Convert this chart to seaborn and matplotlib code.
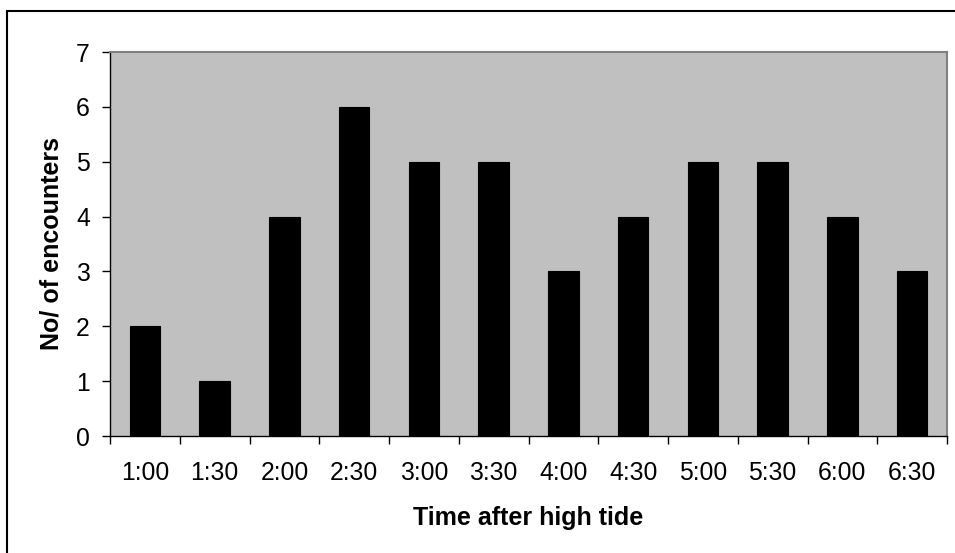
import matplotlib
matplotlib.use("Agg")
import matplotlib.pyplot as plt
import seaborn as sns
import pandas as pd
from matplotlib.patches import Rectangle

categories = ["1:00", "1:30", "2:00", "2:30", "3:00", "3:30",
              "4:00", "4:30", "5:00", "5:30", "6:00", "6:30"]
encounters = [2, 1, 4, 6, 5, 5, 3, 4, 5, 5, 4, 3]
y_ticks = [0, 1, 2, 3, 4, 5, 6, 7]

df = pd.DataFrame({"time": categories, "count": encounters})

sns.set_theme(style="white")
plt.rcParams["font.family"] = ["Liberation Sans", "DejaVu Sans"]
plt.rcParams["text.color"] = "black"
plt.rcParams["axes.labelcolor"] = "black"
plt.rcParams["xtick.color"] = "black"
plt.rcParams["ytick.color"] = "black"

fig = plt.figure(figsize=(9.55, 5.53), dpi=100)
ax = fig.add_axes([110/955, 1-436/553, (947-110)/955, (436-52)/553])
ax.set_facecolor("#C0C0C0")

sns.barplot(data=df, x="time", y="count", ax=ax, color="black",
            width=0.435, edgecolor="black", linewidth=0.8, saturation=1)

ax.set_ylim(0, 7)
ax.set_xlim(-0.5, len(categories) - 0.5)
ax.set_yticks(y_ticks)
ax.set_yticklabels([str(v) for v in y_ticks], fontsize=17.8, color="black")

# category ticks between categories, labels centered
ax.set_xticks([i - 0.5 for i in range(len(categories) + 1)])
ax.set_xticklabels([])
ax.set_xticks(range(len(categories)), minor=True)
ax.set_xticklabels(categories, minor=True, fontsize=17.8, color="black")
ax.tick_params(axis="x", which="major", length=5.5, width=1, color="black", direction="out", bottom=True)
ax.tick_params(axis="x", which="minor", length=0, pad=18)
ax.tick_params(axis="y", which="major", length=5.5, width=1, color="black", direction="out", left=True, pad=9)

for side in ["left", "bottom"]:
    ax.spines[side].set_color("black")
    ax.spines[side].set_linewidth(1)
for side in ["top", "right"]:
    ax.spines[side].set_visible(True)
    ax.spines[side].set_color("#808080")
    ax.spines[side].set_linewidth(1.5)

ax.set_xlabel("Time after high tide", fontsize=18, fontweight="bold", labelpad=15, color="black")
ax.set_ylabel("No/ of encounters", fontsize=18, fontweight="bold", labelpad=9, color="black")

# outer chart border
fig.patches.append(Rectangle((7/955, -0.05), 1.1, 1 - 10.5/553 + 0.05,
                             transform=fig.transFigure, fill=False,
                             edgecolor="black", linewidth=1.5))

fig.savefig("out.png", dpi=100)
